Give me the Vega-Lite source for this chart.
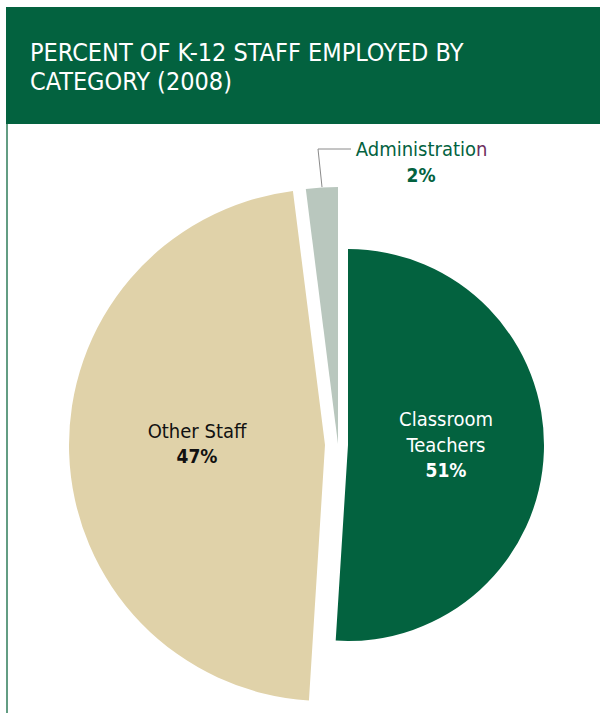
{
  "$schema": "https://vega.github.io/schema/vega-lite/v6.json",
  "width": 600,
  "height": 713,
  "autosize": "none",
  "padding": 0,
  "background": "white",
  "config": {"view": {"stroke": null}, "font": "DejaVu Sans Condensed"},
  "datasets": {
    "staff": [
      {"category": "Classroom Teachers", "share": 0.51, "order": 1},
      {"category": "Other Staff", "share": 0.47, "order": 2},
      {"category": "Administration", "share": 0.02, "order": 3}
    ],
    "frame": [{"id": 1}]
  },
  "layer": [
    {
      "data": {"name": "frame"},
      "mark": {"type": "rect", "fill": "#03623f"},
      "encoding": {"x": {"value": 6}, "x2": {"value": 600}, "y": {"value": 7}, "y2": {"value": 124}}
    },
    {
      "data": {"name": "frame"},
      "mark": {"type": "rule", "stroke": "#2f7d5a", "strokeWidth": 1.5},
      "encoding": {"x": {"value": 7}, "y": {"value": 124}, "y2": {"value": 713}}
    },
    {
      "data": {"name": "frame"},
      "mark": {"type": "text", "text": ["PERCENT OF K-12 STAFF EMPLOYED BY", "CATEGORY (2008)"], "align": "left", "baseline": "alphabetic", "fontSize": 25, "lineHeight": 29, "fill": "white"},
      "encoding": {"x": {"value": 30}, "y": {"value": 61}}
    },
    {
      "data": {"name": "staff"},
      "transform": [
        {"stack": "share", "groupby": [], "sort": [{"field": "order"}], "as": ["start", "end"]},
        {"filter": "datum.category === 'Classroom Teachers'"}
      ],
      "mark": {"type": "arc", "outerRadius": 196},
      "encoding": {
        "theta": {"field": "start", "type": "quantitative", "scale": {"domain": [0, 1]}},
        "theta2": {"field": "end"},
        "color": {"field": "category", "type": "nominal", "legend": null,
          "scale": {"domain": ["Classroom Teachers", "Other Staff", "Administration"], "range": ["#03623f", "#e0d2a9", "#b9c7be"]}},
        "x": {"value": 348},
        "y": {"value": 445}
      }
    },
    {
      "data": {"name": "staff"},
      "transform": [
        {"stack": "share", "groupby": [], "sort": [{"field": "order"}], "as": ["start", "end"]},
        {"filter": "datum.category === 'Other Staff'"}
      ],
      "mark": {"type": "arc", "outerRadius": 256},
      "encoding": {
        "theta": {"field": "start", "type": "quantitative", "scale": {"domain": [0, 1]}},
        "theta2": {"field": "end"},
        "color": {"field": "category", "type": "nominal", "legend": null},
        "x": {"value": 325},
        "y": {"value": 445}
      }
    },
    {
      "data": {"name": "staff"},
      "transform": [
        {"stack": "share", "groupby": [], "sort": [{"field": "order"}], "as": ["start", "end"]},
        {"filter": "datum.category === 'Administration'"}
      ],
      "mark": {"type": "arc", "outerRadius": 257},
      "encoding": {
        "theta": {"field": "start", "type": "quantitative", "scale": {"domain": [0, 1]}},
        "theta2": {"field": "end"},
        "color": {"field": "category", "type": "nominal", "legend": null},
        "x": {"value": 338},
        "y": {"value": 444}
      }
    },
    {
      "data": {"name": "frame"},
      "mark": {"type": "rule", "stroke": "#8a8a8a", "strokeWidth": 1},
      "encoding": {"x": {"value": 322}, "y": {"value": 187}, "x2": {"value": 318}, "y2": {"value": 149}}
    },
    {
      "data": {"name": "frame"},
      "mark": {"type": "rule", "stroke": "#8a8a8a", "strokeWidth": 1},
      "encoding": {"x": {"value": 318}, "y": {"value": 149}, "x2": {"value": 351}, "y2": {"value": 149}}
    },
    {
      "data": {"name": "staff"},
      "transform": [{"filter": "datum.category === 'Classroom Teachers'"}],
      "mark": {"type": "text", "align": "center", "baseline": "alphabetic", "fontSize": 20, "lineHeight": 26, "fill": "white", "lineBreak": " "},
      "encoding": {"text": {"field": "category"}, "x": {"value": 446}, "y": {"value": 426}}
    },
    {
      "data": {"name": "staff"},
      "transform": [{"filter": "datum.category === 'Classroom Teachers'"}],
      "mark": {"type": "text", "align": "center", "baseline": "alphabetic", "fontSize": 19, "fontWeight": "bold", "fill": "white"},
      "encoding": {"text": {"field": "share", "format": ".0%"}, "x": {"value": 446}, "y": {"value": 477}}
    },
    {
      "data": {"name": "staff"},
      "transform": [{"filter": "datum.category === 'Other Staff'"}],
      "mark": {"type": "text", "align": "center", "baseline": "alphabetic", "fontSize": 20, "fill": "#111111"},
      "encoding": {"text": {"field": "category"}, "x": {"value": 197}, "y": {"value": 438}}
    },
    {
      "data": {"name": "staff"},
      "transform": [{"filter": "datum.category === 'Other Staff'"}],
      "mark": {"type": "text", "align": "center", "baseline": "alphabetic", "fontSize": 19, "fontWeight": "bold", "fill": "#111111"},
      "encoding": {"text": {"field": "share", "format": ".0%"}, "x": {"value": 197}, "y": {"value": 463}}
    },
    {
      "data": {"name": "frame"},
      "mark": {"type": "text", "text": "Administratio", "align": "right", "baseline": "alphabetic", "fontSize": 20, "fill": "#03623f"},
      "encoding": {"x": {"value": 476}, "y": {"value": 156}}
    },
    {
      "data": {"name": "frame"},
      "mark": {"type": "text", "text": "n", "align": "left", "baseline": "alphabetic", "fontSize": 20, "fill": "#6e2f5e"},
      "encoding": {"x": {"value": 476}, "y": {"value": 156}}
    },
    {
      "data": {"name": "staff"},
      "transform": [{"filter": "datum.category === 'Administration'"}],
      "mark": {"type": "text", "align": "center", "baseline": "alphabetic", "fontSize": 19, "fontWeight": "bold", "fill": "#03623f"},
      "encoding": {"text": {"field": "share", "format": ".0%"}, "x": {"value": 421}, "y": {"value": 182}}
    }
  ]
}
